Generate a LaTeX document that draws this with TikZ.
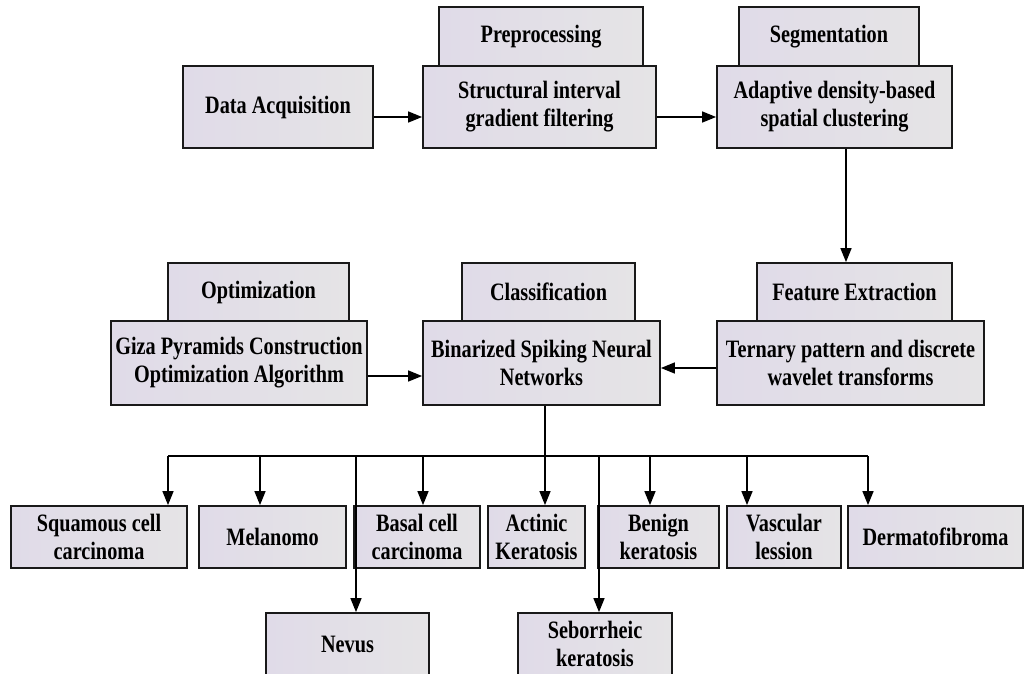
\documentclass[tikz,border=0pt]{standalone}
\usepackage{fontspec}
\setmainfont{Liberation Serif}
\newfontfamily\labfont{Liberation Serif}[UprightFont={* Bold}, FakeStretch=0.81]
\usetikzlibrary{arrows.meta}
\definecolor{lav}{RGB}{224,219,232}
\definecolor{lgray}{RGB}{229,228,230}
\definecolor{edge}{RGB}{25,25,25}
\tikzset{
  box/.style={draw=edge, line width=1.8pt, left color=lav, right color=lgray,
    inner sep=0pt, align=center, font=\labfont\fontsize{25}{28}\selectfont},
  arr/.style={line width=1.5pt, -{Triangle[length=14pt,width=11pt]}},
  ln/.style={line width=1.5pt}
}
\newcommand{\bx}[6]{% name, x1,y1,x2,y2, text
  \node[box, minimum width={(#4)-(#2)}, minimum height={(#5)-(#3)}] (#1) at ({((#2)+(#4))/2},{((#3)+(#5))/2}) {#6};}
\begin{document}
\begin{tikzpicture}[x=1pt,y=-1pt]
\useasboundingbox (0,0) rectangle (1028,673);
\clip (0,0) rectangle (1028,673);
\fill[white] (0,0) rectangle (1028,673);
% top row
\bx{da}{183}{66}{373}{148}{Data Acquisition}
\bx{pre}{439}{7}{643}{66}{Preprocessing}
\bx{si}{423}{66}{656}{148}{Structural interval\\gradient filtering}
\bx{seg}{739}{7}{919}{66}{Segmentation}
\bx{adb}{717}{66}{952}{148}{Adaptive density-based\\spatial clustering}
% middle row
\bx{opt}{168}{263}{349}{321}{Optimization}
\bx{giza}{111}{321}{367}{405}{Giza Pyramids Construction\\Optimization Algorithm}
\bx{cls}{462}{263}{635}{321}{Classification}
\bx{bsn}{423}{321}{660}{405}{Binarized Spiking Neural\\Networks}
\bx{fe}{757}{263}{952}{321}{Feature Extraction}
\bx{tp}{717}{321}{984}{405}{Ternary pattern and discrete\\wavelet transforms}
% bottom row
\bx{sq}{11}{506}{187}{568}{Squamous cell\\carcinoma}
\bx{mel}{199}{506}{346}{568}{Melanomo}
\bx{bas}{354}{506}{480}{568}{Basal cell\\carcinoma}
\bx{act}{488}{506}{585}{568}{Actinic\\Keratosis}
\bx{ben}{598}{506}{719}{568}{Benign\\keratosis}
\bx{vas}{727}{506}{841}{568}{Vascular\\lession}
\bx{der}{848}{506}{1023}{568}{Dermatofibroma}
\bx{nev}{266}{613}{429}{675}{Nevus}
\bx{seb}{518}{613}{672}{675}{Seborrheic\\keratosis}
% connectors
\draw[arr] ([yshift=-10pt]da.east) -- ([yshift=-10pt]si.west);
\draw[arr] ([yshift=-10pt]si.east) -- ([yshift=-10pt]adb.west);
\draw[arr] ([xshift=11.5pt]adb.south) -- ([xshift=11.5pt]adb.south |- fe.north);
\draw[arr] ([yshift=-5pt]tp.west) -- ([yshift=-5pt]tp.west -| bsn.east);
\draw[arr] ([yshift=-13pt]giza.east) -- ([yshift=-13pt]giza.east -| bsn.west);
% bus
\coordinate (bL) at (168,456);
\coordinate (bR) at (868,456);
\coordinate (bM) at (260,456);
\coordinate (bN) at (356,456);
\coordinate (bB) at (423,456);
\coordinate (bA) at (545,456);
\coordinate (bS) at (599,456);
\coordinate (bBe) at (650,456);
\coordinate (bV) at (747,456);
\draw[ln] (bL) -- (bR);
\draw[arr] (bsn.south -| bA) -- (bA |- act.north);
\draw[arr] (bL) -- (bL |- sq.north);
\draw[arr] (bM) -- (bM |- mel.north);
\draw[arr] (bN) -- (bN |- nev.north);
\draw[arr] (bB) -- (bB |- bas.north);
\draw[arr] (bS) -- (bS |- seb.north);
\draw[arr] (bBe) -- (bBe |- ben.north);
\draw[arr] (bV) -- (bV |- vas.north);
\draw[arr] (bR) -- (bR |- der.north);
\end{tikzpicture}
\end{document}
